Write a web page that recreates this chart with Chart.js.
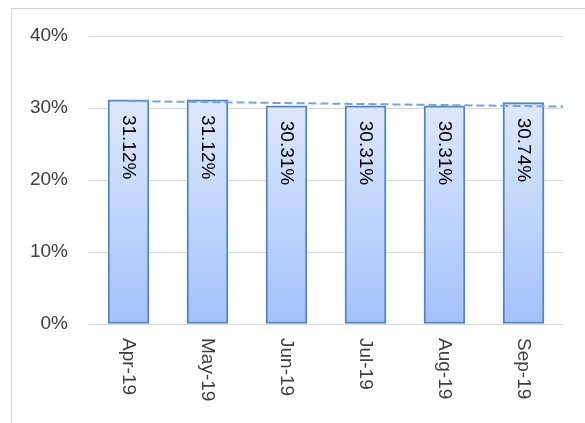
<!DOCTYPE html>
<html>
<head>
<meta charset="utf-8">
<script src="https://cdn.jsdelivr.net/npm/chart.js@4.4.0/dist/chart.umd.min.js"></script>
<style>
  html, body { margin: 0; padding: 0; background: #fff; overflow: hidden; }
  #wrap { position: relative; width: 585px; height: 423px; }
  #frame { position: absolute; left: 11px; top: 8px; width: 600px; height: 440px;
           border: 1px solid #d4d4d4; pointer-events: none; }
</style>
</head>
<body>
<div id="wrap">
  <canvas id="barChart" width="585" height="423"></canvas>
  <div id="frame"></div>
</div>
<script>
const months = ['Apr-19', 'May-19', 'Jun-19', 'Jul-19', 'Aug-19', 'Sep-19'];
const rates = [31.12, 31.12, 30.31, 30.31, 30.31, 30.74];
const trend = [{ x: 0, y: 30.96 }, { x: 5.5, y: 30.2 }];
const yTicks = [0, 10, 20, 30, 40];

const FONT = '"Liberation Sans", Arial, sans-serif';

// excel style labels, rotated clockwise so they read top to bottom
const rotatedLabels = {
  id: 'rotatedLabels',
  afterDatasetsDraw(chart) {
    const ctx = chart.ctx;
    const xs = chart.scales.x;
    const meta = chart.getDatasetMeta(1); // the bars
    ctx.save();
    ctx.font = '19px ' + FONT;
    ctx.textAlign = 'left';
    ctx.textBaseline = 'middle';

    ctx.fillStyle = '#000';
    meta.data.forEach((bar, i) => {
      ctx.save();
      ctx.translate(bar.x, bar.y + 15);
      ctx.rotate(Math.PI / 2);
      ctx.fillText(rates[i].toFixed(2) + '%', 0, 0);
      ctx.restore();
    });

    ctx.fillStyle = '#404040';
    months.forEach((m, i) => {
      ctx.save();
      ctx.translate(xs.getPixelForValue(i), chart.chartArea.bottom + 14);
      ctx.rotate(Math.PI / 2);
      ctx.fillText(m, 0, 0);
      ctx.restore();
    });
    ctx.restore();
  }
};

function barGradient(context) {
  const chart = context.chart;
  const area = chart.chartArea;
  if (!area) return '#bcd3fb';
  const top = chart.scales.y.getPixelForValue(31.12);
  const g = chart.ctx.createLinearGradient(0, top, 0, area.bottom);
  g.addColorStop(0, '#dee9fc');
  g.addColorStop(1, '#a2c2fb');
  return g;
}

new Chart(document.getElementById('barChart'), {
  data: {
    labels: months,
    datasets: [
      {
        type: 'line',
        data: trend,
        xAxisID: 'x2',
        borderColor: '#7aa3d6',
        borderWidth: 2,
        borderDash: [8, 4],
        pointRadius: 0,
        fill: false,
        order: 0
      },
      {
        type: 'bar',
        data: rates,
        backgroundColor: barGradient,
        borderColor: '#5585c4',
        borderWidth: 2,
        borderSkipped: false,
        barThickness: 41,
        grouped: false,
        order: 1
      }
    ]
  },
  options: {
    responsive: false,
    animation: false,
    layout: { padding: { top: 36, right: 22, left: 0, bottom: 0 } },
    plugins: { legend: { display: false }, tooltip: { enabled: false } },
    scales: {
      x: {
        type: 'category',
        grid: { display: false },
        border: { display: false },
        ticks: { display: false },
        afterFit(scale) { scale.height = 99; }
      },
      x2: {
        type: 'linear',
        min: -0.5,
        max: 5.5,
        display: false
      },
      y: {
        min: 0,
        max: 40,
        afterBuildTicks(scale) { scale.ticks = yTicks.map(v => ({ value: v })); },
        afterFit(scale) { scale.width = 89; },
        grid: { color: '#d9d9d9', lineWidth: 1, drawTicks: false },
        border: { display: false },
        ticks: {
          padding: 21,
          color: '#404040',
          font: { family: FONT, size: 19 },
          callback: v => v + '%'
        }
      }
    }
  },
  plugins: [rotatedLabels]
});
</script>
</body>
</html>
